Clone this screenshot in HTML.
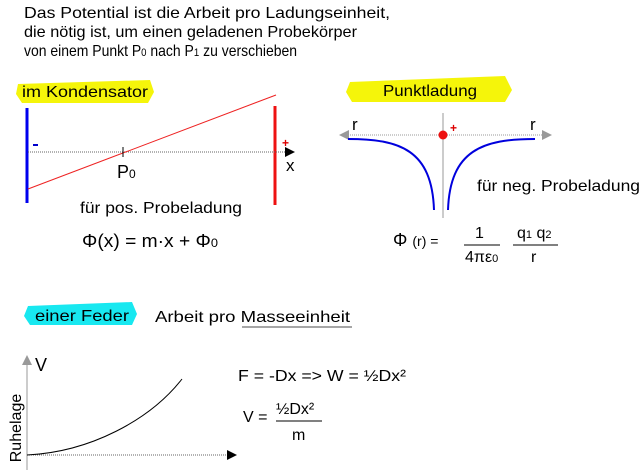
<!DOCTYPE html>
<html><head><meta charset="utf-8"><style>
html,body{margin:0;padding:0;background:#fff;}
svg{display:block;font-family:"Liberation Sans",sans-serif;}
</style></head><body>
<svg width="640" height="470" viewBox="0 0 640 470" xmlns="http://www.w3.org/2000/svg">
<defs>
<marker id="ab" markerWidth="10" markerHeight="10" refX="9" refY="5" orient="auto" markerUnits="userSpaceOnUse"><path d="M0,0 L10,5 L0,10 z" fill="#000"/></marker>
<marker id="ag" markerWidth="10" markerHeight="10" refX="9" refY="5" orient="auto" markerUnits="userSpaceOnUse"><path d="M0,0 L10,5 L0,10 z" fill="#999"/></marker>
</defs>
<g font-size="16" fill="#000">
<text x="24" y="18" textLength="366" lengthAdjust="spacingAndGlyphs">Das Potential ist die Arbeit pro Ladungseinheit,</text>
<text x="24" y="37" textLength="333" lengthAdjust="spacingAndGlyphs">die nötig ist, um einen geladenen Probekörper</text>
<text x="24" y="56" textLength="273" lengthAdjust="spacingAndGlyphs">von einem Punkt P<tspan font-size="11">0</tspan> nach P<tspan font-size="11">1</tspan> zu verschieben</text>
</g>
<!-- Kondensator -->
<path d="M18,84 L150,80 L154,92 L148,103 L22,103 L16,94 z" fill="#f5f50a"/>
<text x="22" y="97" font-size="16" textLength="126" lengthAdjust="spacingAndGlyphs">im Kondensator</text>
<line x1="27" y1="108" x2="27" y2="203" stroke="#0000ee" stroke-width="3"/>
<line x1="275" y1="106" x2="275" y2="205" stroke="#ee1111" stroke-width="3"/>
<line x1="28" y1="152" x2="294" y2="152" stroke="#666" stroke-width="1" stroke-dasharray="1,1" marker-end="url(#ab)"/>
<line x1="28" y1="189" x2="276" y2="95" stroke="#ee2222" stroke-width="1"/>
<line x1="123" y1="147" x2="123" y2="157" stroke="#000"/>
<line x1="33" y1="145" x2="38" y2="145" stroke="#0000cc" stroke-width="2"/>
<text x="282" y="147" font-size="12" fill="#dd0000" font-weight="bold">+</text>
<text x="286" y="171" font-size="17">x</text>
<text x="117" y="178" font-size="18">P<tspan font-size="12">0</tspan></text>
<text x="80" y="213" font-size="16" textLength="162" lengthAdjust="spacingAndGlyphs">für pos. Probeladung</text>
<text x="82" y="247" font-size="18" textLength="136" lengthAdjust="spacingAndGlyphs">Φ(x) = m·x + Φ<tspan font-size="12">0</tspan></text>
<!-- Punktladung -->
<path d="M350,82 L505,76 L512,90 L505,102 L352,102 L346,92 z" fill="#f5f50a"/>
<text x="383" y="96" font-size="16" textLength="94" lengthAdjust="spacingAndGlyphs">Punktladung</text>
<line x1="443" y1="113" x2="443" y2="218" stroke="#999" stroke-width="1"/>
<line x1="443" y1="135" x2="340" y2="135" stroke="#999" stroke-dasharray="1,1" marker-end="url(#ag)"/>
<line x1="443" y1="135" x2="551" y2="135" stroke="#999" stroke-dasharray="1,1" marker-end="url(#ag)"/>
<circle cx="443" cy="135" r="4.5" fill="#ee1111"/>
<text x="450" y="132" font-size="12" fill="#dd0000" font-weight="bold">+</text>
<text x="352" y="130" font-size="17">r</text>
<text x="530" y="130" font-size="17">r</text>
<path d="M348,139 C400,139 432,150 434,210" fill="none" stroke="#0000dd" stroke-width="2"/>
<path d="M535,139 C483,139 450,150 448,210" fill="none" stroke="#0000dd" stroke-width="2"/>
<text x="477" y="191" font-size="16" textLength="163" lengthAdjust="spacingAndGlyphs">für neg. Probeladung</text>
<text x="393" y="246" font-size="18">Φ <tspan font-size="14">(r) =</tspan></text>
<text x="475" y="238" font-size="16">1</text>
<line x1="464" y1="245" x2="500" y2="245" stroke="#000"/>
<text x="465" y="262" font-size="16">4πε<tspan font-size="11">0</tspan></text>
<text x="517" y="238" font-size="16">q<tspan font-size="11">1</tspan> q<tspan font-size="11">2</tspan></text>
<line x1="513" y1="245" x2="558" y2="245" stroke="#000"/>
<text x="531" y="262" font-size="16">r</text>
<!-- Feder -->
<path d="M28,306 L132,302 L137,314 L132,325 L30,325 L24,316 z" fill="#18e8f0"/>
<text x="35" y="321" font-size="16" textLength="94" lengthAdjust="spacingAndGlyphs">einer Feder</text>
<text x="155" y="322" font-size="16" textLength="195" lengthAdjust="spacingAndGlyphs">Arbeit pro Masseeinheit</text>
<line x1="242" y1="327" x2="352" y2="327" stroke="#888" stroke-width="1.5"/>
<line x1="27" y1="470" x2="27" y2="356" stroke="#999" marker-end="url(#ag)"/>
<line x1="27" y1="455" x2="236" y2="455" stroke="#666" stroke-dasharray="1,1" marker-end="url(#ab)"/>
<path d="M27,455 C90,452 150,420 182,379" fill="none" stroke="#000" stroke-width="1"/>
<text x="35" y="371" font-size="18">V</text>
<text transform="translate(21,428) rotate(-90)" font-size="16" text-anchor="middle">Ruhelage</text>
<text x="238" y="381" font-size="16" textLength="168" lengthAdjust="spacingAndGlyphs">F = -Dx  =&gt; W = ½Dx²</text>
<text x="243" y="422" font-size="16">V =</text>
<text x="276" y="414" font-size="16">½Dx²</text>
<line x1="276" y1="421" x2="322" y2="421" stroke="#000"/>
<text x="292" y="440" font-size="16">m</text>
</svg>
</body></html>
